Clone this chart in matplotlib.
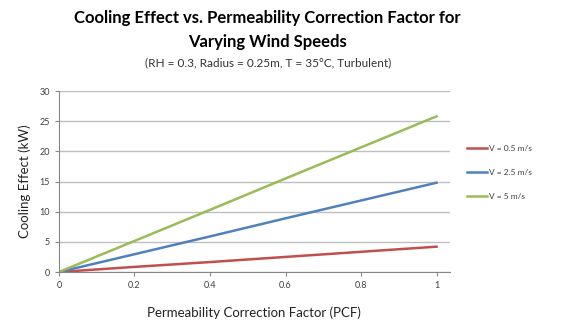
import matplotlib
matplotlib.use("Agg")
import matplotlib.pyplot as plt
import numpy as np

plt.rcParams['font.family'] = ['Lato', 'DejaVu Sans']

# data
pcf = [0.0, 0.2, 0.4, 0.6, 0.8, 1.0]
v_05 = [0.0, 0.85, 1.65, 2.5, 3.35, 4.2]
v_25 = [0.0, 2.95, 5.9, 8.9, 11.85, 14.8]
v_5 = [0.0, 5.15, 10.3, 15.5, 20.65, 25.8]
labels = ["V = 0.5 m/s", "V = 2.5 m/s", "V = 5 m/s"]
x_ticks = [0, 0.2, 0.4, 0.6, 0.8, 1]
y_ticks = [0, 5, 10, 15, 20, 25, 30]

fig = plt.figure(figsize=(5.65, 3.21), dpi=100)
ax = fig.add_axes([0.1044, 0.1526, 0.6916, 0.5639])

ax.plot(pcf, v_05, color='#C0504D', lw=1.8, label=labels[0])
ax.plot(pcf, v_25, color='#4F81BD', lw=1.8, label=labels[1])
ax.plot(pcf, v_5, color='#9BBB59', lw=1.8, label=labels[2])

ax.set_xlim(0, 1.035)
ax.set_ylim(0, 30)
ax.set_xticks(x_ticks)
ax.set_xticklabels([str(t) for t in x_ticks])
ax.set_yticks(y_ticks)
ax.grid(axis='y', color='#BFBFBF', lw=1)
ax.set_axisbelow(True)
for s in ['top', 'right']:
    ax.spines[s].set_visible(False)
for s in ['left', 'bottom']:
    ax.spines[s].set_color('#868686')
ax.tick_params(axis='both', colors='#868686', labelcolor='#404040', labelsize=6.5, length=3)

ax.set_ylabel("Cooling Effect (kW)", fontsize=9.5, color='#222222', labelpad=6)
ax.set_xlabel("Permeability Correction Factor (PCF)", fontsize=9.5, color='#222222', labelpad=12)

ax.legend(loc='center left', bbox_to_anchor=(1.043, 0.552), frameon=False, fontsize=6,
          borderaxespad=0, borderpad=0,
          handlelength=2.4, handletextpad=0.3, labelspacing=2.05, labelcolor='#404040')

fig.text(0.474, 0.945, "Cooling Effect vs. Permeability Correction Factor for",
         ha='center', va='center', fontsize=12, fontweight='bold')
fig.text(0.474, 0.87, "Varying Wind Speeds",
         ha='center', va='center', fontsize=12, fontweight='bold')
fig.text(0.474, 0.805, "(RH = 0.3, Radius = 0.25m, T = 35\u00b0C, Turbulent)",
         ha='center', va='center', fontsize=8.5, color='#333333')

fig.savefig("out.png", dpi=100)
